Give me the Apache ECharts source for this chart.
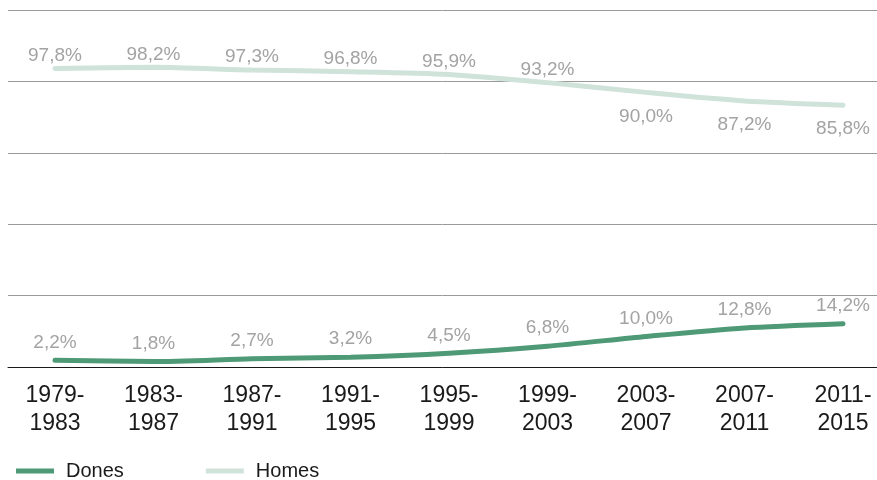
<!DOCTYPE html>
<html>
<head>
<meta charset="utf-8">
<script src="https://cdn.jsdelivr.net/npm/echarts@6/dist/echarts.min.js"></script>
<style>
html,body{margin:0;padding:0;background:#fff;}
#chart{width:877px;height:480px;}
</style>
</head>
<body>
<div id="chart"></div>
<script>
const categories = ['1979-\n1983','1983-\n1987','1987-\n1991','1991-\n1995','1995-\n1999','1999-\n2003','2003-\n2007','2007-\n2011','2011-\n2015'];
const dones = [2.2, 1.8, 2.7, 3.2, 4.5, 6.8, 10.0, 12.8, 14.2];
const homes = [97.8, 98.2, 97.3, 96.8, 95.9, 93.2, 90.0, 87.2, 85.8];
const homesLabelBelow = [false, false, false, false, false, false, true, true, true];

const FONT = 'Liberation Sans';
const fmt = v => v.toFixed(1).replace('.', ',') + '%';

const chart = echarts.init(document.getElementById('chart'), null, {renderer: 'canvas'});
chart.setOption({
  animation: false,
  textStyle: {fontFamily: FONT},
  grid: {left: 8, right: 0, top: 10, bottom: 113, containLabel: false},
  xAxis: {
    type: 'value',
    min: -0.477,
    max: 8.345,
    splitLine: {show: false},
    axisTick: {show: false},
    axisLine: {show: true, onZero: false, lineStyle: {color: '#1a1a1a', width: 1}},
    axisLabel: {
      customValues: categories.map((c, i) => i),
      formatter: v => categories[Math.round(v)],
      color: '#1a1a1a',
      fontSize: 23,
      lineHeight: 28,
      margin: 15,
      fontFamily: FONT
    }
  },
  yAxis: {
    type: 'value',
    min: 0,
    max: 117,
    interval: 23.4,
    axisLabel: {show: false},
    axisTick: {show: false},
    axisLine: {show: false},
    splitLine: {show: true, lineStyle: {color: '#9a9a9a', width: 1}}
  },
  legend: {
    left: 11,
    top: 456,
    itemWidth: 38,
    itemHeight: 5,
    itemGap: 82,
    icon: 'rect',
    textStyle: {fontSize: 20, color: '#1a1a1a', fontFamily: FONT, padding: [0, 0, 0, 7]},
    data: ['Dones', 'Homes']
  },
  series: [
    {
      name: 'Dones',
      type: 'line',
      smooth: 0.25,
      symbol: 'circle',
      symbolSize: 1,
      showSymbol: true,
      color: '#4f9a76',
      itemStyle: {color: '#4f9a76'},
      lineStyle: {width: 5, color: '#4f9a76', cap: 'round'},
      data: dones.map((v, i) => [i, v]),
      label: {
        show: true, position: 'top', distance: 8,
        color: '#a3a3a3', fontSize: 19, fontFamily: FONT,
        formatter: p => fmt(p.value[1])
      },
      z: 3
    },
    {
      name: 'Homes',
      type: 'line',
      smooth: 0.25,
      symbol: 'circle',
      symbolSize: 1,
      showSymbol: true,
      color: '#cfe3da',
      itemStyle: {color: '#cfe3da'},
      lineStyle: {width: 5, color: '#cfe3da', cap: 'round'},
      data: homes.map((v, i) => ({
        value: [i, v],
        label: {position: homesLabelBelow[i] ? 'bottom' : 'top', distance: homesLabelBelow[i] ? 14 : 3}
      })),
      label: {
        show: true,
        color: '#a3a3a3', fontSize: 19, fontFamily: FONT,
        formatter: p => fmt(p.value[1])
      },
      z: 2
    }
  ]
});
</script>
</body>
</html>
